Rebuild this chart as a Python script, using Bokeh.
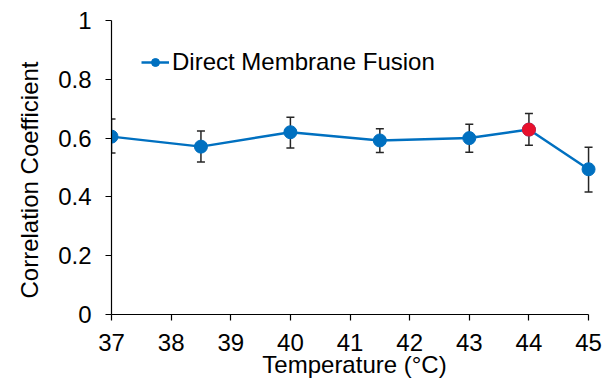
from bokeh.plotting import figure
from bokeh.models import ColumnDataSource, Whisker, TeeHead, FixedTicker, Range1d, Title
from bokeh.embed import file_html
from bokeh.resources import INLINE

# Data
temperature = [37, 38.5, 40, 41.5, 43, 44, 45]
correlation = [0.605, 0.571, 0.620, 0.592, 0.600, 0.629, 0.494]
err_upper = [0.665, 0.624, 0.671, 0.632, 0.647, 0.684, 0.569]
err_lower = [0.549, 0.519, 0.566, 0.551, 0.552, 0.576, 0.417]
highlight_index = 5
series_name = "Direct Membrane Fusion"
x_ticks = [37, 38, 39, 40, 41, 42, 43, 44, 45]
y_ticks = [0, 0.2, 0.4, 0.6, 0.8, 1]
y_tick_labels = ["0", "0.2", "0.4", "0.6", "0.8", "1"]

BLUE = "#0070C0"
RED = "#E8112D"
FONT = "Liberation Sans"
FS = "24px"

p = figure(width=604, height=383, output_backend="svg", toolbar_location=None,
           x_range=Range1d(37, 45.15), y_range=Range1d(0, 1),
           min_border_left=108, min_border_right=7, min_border_top=20, min_border_bottom=69)
p.outline_line_color = None
p.xgrid.visible = False
p.ygrid.visible = False
p.background_fill_color = "white"
p.border_fill_color = "white"

src = ColumnDataSource(dict(x=temperature, y=correlation, upper=err_upper, lower=err_lower))

wh = Whisker(base="x", upper="upper", lower="lower", source=src,
             line_color="#262626", line_width=1.5,
             upper_head=TeeHead(size=8, line_color="#262626", line_width=1.5),
             lower_head=TeeHead(size=8, line_color="#262626", line_width=1.5))
p.add_layout(wh)

p.line("x", "y", source=src, line_color=BLUE, line_width=2.5, legend_label=series_name)
p.scatter("x", "y", source=src, size=13, fill_color=BLUE, line_color=BLUE, legend_label=series_name)
p.scatter([temperature[highlight_index]], [correlation[highlight_index]], size=13,
          fill_color=RED, line_color=RED)

def style(ax):
    ax.axis_line_color = "black"
    ax.axis_line_width = 1.2
    ax.major_tick_line_color = "black"
    ax.major_tick_line_width = 1.2
    ax.major_tick_in = 0
    ax.major_tick_out = 6
    ax.minor_tick_line_color = None
    ax.major_label_text_font = FONT
    ax.major_label_text_font_size = FS
    ax.major_label_text_color = "black"
    ax.axis_label_text_font = FONT
    ax.axis_label_text_font_size = FS
    ax.axis_label_text_font_style = "normal"
    ax.axis_label_text_color = "black"

# X axis
xax = p.xaxis[0]
style(xax)
xax.ticker = FixedTicker(ticks=x_ticks)
xax.bounds = (x_ticks[0], x_ticks[-1])
xax.axis_label = "Temperature (°C)"
xax.major_label_standoff = 13
xax.axis_label_standoff = -3

# Y axis
yax = p.yaxis[0]
style(yax)
yax.ticker = FixedTicker(ticks=y_ticks)
yax.major_label_overrides = {t: l for t, l in zip(y_ticks, y_tick_labels)}
yax.major_label_standoff = 14

# Y axis title, anchored a little above the frame bottom
p.add_layout(Title(text="Correlation Coefficient", align="left", offset=16, standoff=26,
                   text_font=FONT, text_font_size=FS, text_font_style="normal",
                   text_color="black"), "left")

# Legend
lg = p.legend[0]
lg.location = (30, 238)
lg.margin = 0
lg.padding = 0
lg.border_line_color = None
lg.background_fill_alpha = 0
lg.glyph_width = 28
lg.label_standoff = 3
lg.label_text_font = FONT
lg.label_text_font_size = FS
lg.label_text_color = "black"

open("out.html", "w").write(file_html(p, INLINE))
